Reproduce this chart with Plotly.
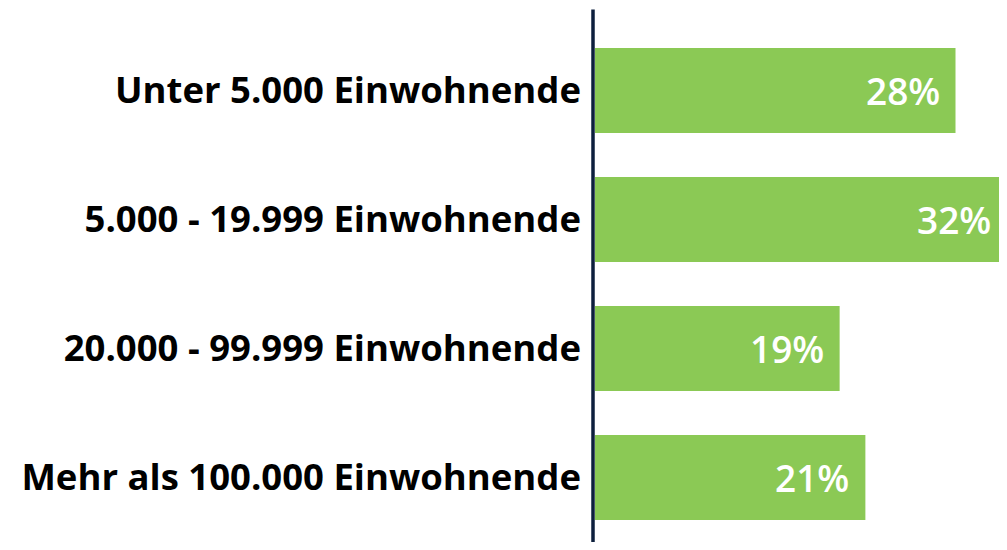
import plotly.graph_objects as go

categories = ["Unter 5.000 Einwohnende", "5.000 - 19.999 Einwohnende",
              "20.000 - 99.999 Einwohnende", "Mehr als 100.000 Einwohnende"]
values = [28, 32, 19, 21]
labels = [f"{v}%" for v in values]

BAR = "#8BC955"
LINE = "#0D1F3D"
FONT = "Open Sans"

fig = go.Figure(go.Bar(
    x=values, y=categories, orientation="h",
    marker=dict(color=BAR, line=dict(width=0)),
    hoverinfo="skip",
))

for c, v, t in zip(categories, values, labels):
    fig.add_annotation(x=v, y=c, xref="x", yref="y", text=t, showarrow=False,
                       xanchor="right", xshift=-14,
                       font=dict(family=FONT, size=37, color="white", weight=600))

fig.add_shape(type="line", xref="paper", yref="paper", x0=-0.00485, x1=-0.00485,
              y0=-0.0155, y1=1.032, line=dict(color=LINE, width=3.5))

fig.update_layout(
    width=999, height=534,
    margin=dict(l=587, r=0, t=17.5, b=0, autoexpand=False),
    paper_bgcolor="white", plot_bgcolor="white",
    bargap=0.342, showlegend=False,
    xaxis=dict(range=[0, 32], visible=False, fixedrange=True),
    yaxis=dict(autorange="reversed", showgrid=False, zeroline=False, showline=False,
               ticks="", ticklabelstandoff=13,
               tickfont=dict(family=FONT, size=36.5, color="black", weight="bold")),
)

fig.write_html("out.html")
